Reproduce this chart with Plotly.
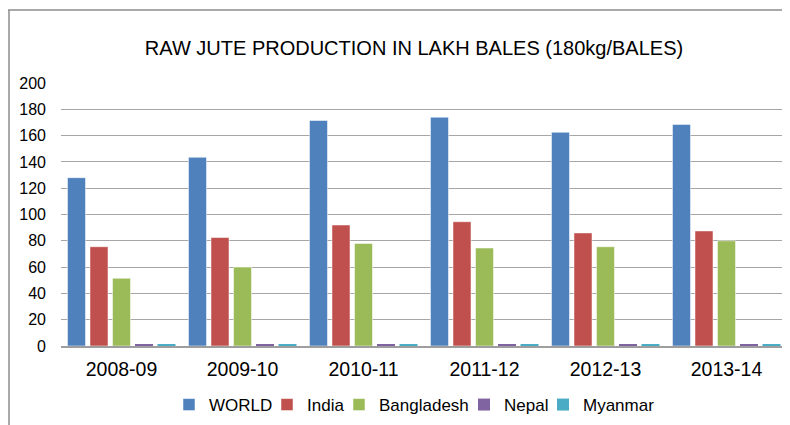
import plotly.graph_objects as go

categories = ["2008-09", "2009-10", "2010-11", "2011-12", "2012-13", "2013-14"]
world = [128, 143.5, 171.5, 174, 162.5, 168.5]
india = [75.5, 82.5, 92, 94.5, 86, 87.5]
bangladesh = [51.5, 60, 78, 74.5, 75.5, 80]
nepal = [0.9, 0.9, 0.9, 0.9, 0.9, 0.9]
myanmar = [0.9, 0.9, 0.9, 0.9, 0.9, 0.9]
y_ticks = [0, 20, 40, 60, 80, 100, 120, 140, 160, 180, 200]

series = [
    ("WORLD", world, "#4F81BD", 53),
    ("India", india, "#C0504D", 27),
    ("Bangladesh", bangladesh, "#9BBB59", 80),
    ("Nepal", nepal, "#8064A2", 34),
    ("Myanmar", myanmar, "#4BACC6", 71),
]

fig = go.Figure()
for name, vals, col, lw in series:
    fig.add_trace(go.Bar(x=categories, y=vals, name=name, legendwidth=lw,
                         marker=dict(color=col, line=dict(color="rgba(255,255,255,0.5)",
                                                          width=1 if max(vals) > 5 else 0))))

# page body has an 8px margin; figure sized so it fits the window
OFF = 8
W, H = 790 - OFF, 425 - OFF
l, r, t, b = 61 - OFF, 3, 83 - OFF, 79
pw, ph = W - l - r, H - t - b

fig.update_layout(
    width=W, height=H,
    margin=dict(l=l, r=r, t=t, b=b, autoexpand=False),
    paper_bgcolor="white", plot_bgcolor="white",
    font=dict(family="Arial, Liberation Sans, sans-serif", color="#000000"),
    barmode="group", bargap=0.07, bargroupgap=0.2,
    title=dict(text="RAW JUTE PRODUCTION IN LAKH BALES (180kg/BALES)",
               x=(414 - OFF) / W, xanchor="center", y=1 - (48 - OFF) / H, yanchor="middle",
               font=dict(size=20, color="#000000")),
    xaxis=dict(type="category", showgrid=False, showline=True, linecolor="#9e9e9e", linewidth=1.5,
               tickfont=dict(size=19.5), ticks="", ticklabelstandoff=5),
    yaxis=dict(range=[0, 200], tickvals=y_ticks, showgrid=True, gridcolor="#a6a6a6",
               gridwidth=1, zeroline=False, showline=False, tickfont=dict(size=16),
               ticks="", ticklabelstandoff=14),
    legend=dict(orientation="h", x=(414 - OFF - l) / pw, xanchor="center",
                y=1 - (405 - 83) / ph, yanchor="middle", font=dict(size=17),
                itemwidth=30, tracegroupgap=0, bgcolor="rgba(0,0,0,0)"),
    shapes=[
        dict(type="line", xref="paper", yref="paper",
             x0=(0 - l) / pw, x1=(W + 5 - l) / pw,
             y0=1 + (t - 2) / ph, y1=1 + (t - 2) / ph,
             line=dict(color="#8c8c8c", width=1.5)),
        dict(type="line", xref="paper", yref="paper",
             x0=(1 - l) / pw, x1=(1 - l) / pw,
             y0=1 + (t - 2) / ph, y1=-(b + 5) / ph,
             line=dict(color="#8c8c8c", width=1.5)),
    ],
)

fig.write_html("out.html")
